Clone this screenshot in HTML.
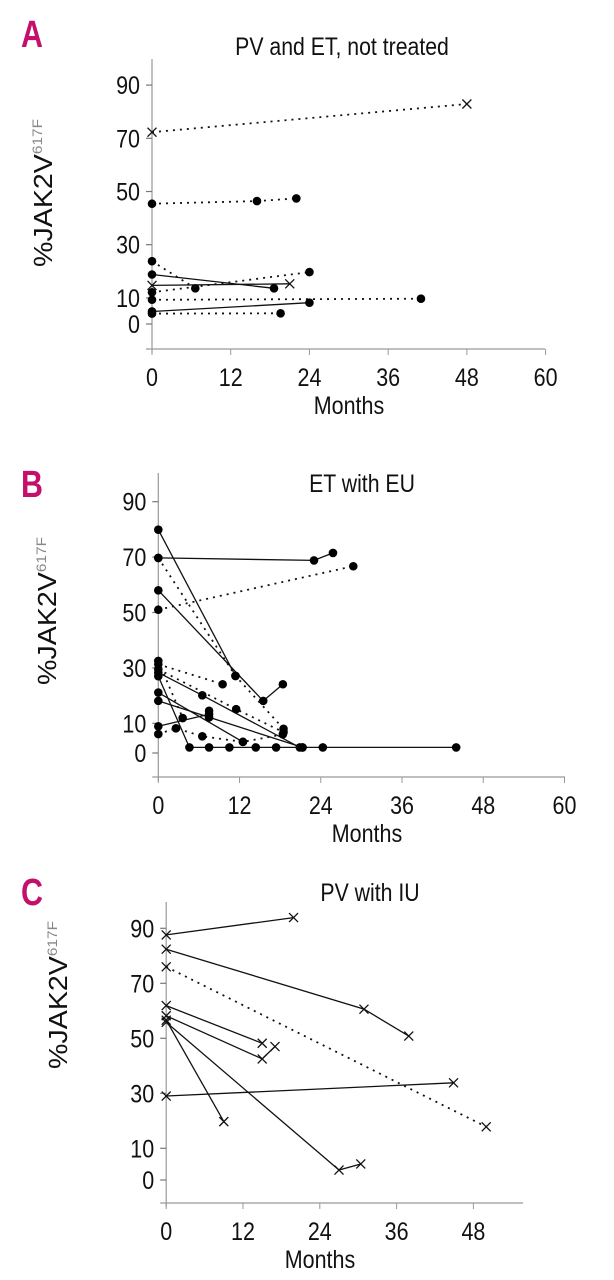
<!DOCTYPE html>
<html><head><meta charset="utf-8"><style>
html,body{margin:0;padding:0;background:#fff;}
svg{display:block;}
text{font-family:"Liberation Sans Narrow","Liberation Sans",sans-serif;}
</style></head><body>
<svg id="fig" width="614" height="1280" viewBox="0 0 614 1280" xmlns="http://www.w3.org/2000/svg"></svg>
<script>
// ---- Panel A data ----
const aTicksX = [0, 12, 24, 36, 48, 60];
const aTicksY = [90, 70, 50, 30, 10, 0];
const aMonths = [[0,48],[0,16,22],[0,6.6],[0,24],[0,18.6],[0,21],[0,41],[0,24],[0,19.6]];
const aValues = [[72.3,82.9],[45.4,46.4,47.4],[23.8,13.6],[12.1,19.7],[18.8,13.6],[14.7,15.3],[9.3,9.7],[4.9,8.2],[4.1,4.2]];
const aMarker = ['x','dot','dot','dot','dot','x','dot','dot','dot'];
const aDash = [true,true,true,true,false,false,true,false,true];
// ---- Panel B data ----
const bTicksX = [0, 12, 24, 36, 48, 60];
const bTicksY = [90, 70, 50, 30, 10, 0];
const bMonths = [[0,11.4],[0,15.5,18.4],[0,23,25.8],[0,11.4,18.5],[0,28.8],[0,9.5],[0,6.5,20.9],[0,11.5,18.5],[0,4.6,7.5,10.5,14.4,17.4,21.3,24.3,44],[0,12.5],[0,21.3],[0,7.5],[0,2.6,6.5,12.5,18.4],[0,3.6],[7.5,7.5]];
const bValues = [[79.9,27.1],[58,18.1,24.1],[69.7,68.8,71.5],[69.7,27.1,8.0],[51,66.7],[31.3,24.1],[28.3,20.1,1.3],[29.5,15.1,6.8],[27,1.3,1.3,1.3,1.3,1.3,1.3,1.3,1.3],[21.1,3.3],[18.1,1.3],[8.9,13.3],[6.1,8.2,5.3,3.3,6.0],[32.5,11.9],[14.5,12.1]];
const bMarker = ['dot','dot','dot','dot','dot','dot','dot','dot','dot','dot','dot','dot','dot','dot','dot'];
const bDash = [false,false,false,true,true,true,false,true,false,false,false,false,true,true,false];
// ---- Panel C data ----
const cTicksX = [0, 12, 24, 36, 48];
const cTicksY = [90, 70, 50, 30, 10, 0];
const cMonths = [[0,19.9],[0,30.9,37.9],[0,50],[0,15],[0,15,17],[0,9],[0,27,30.4],[0,44.9]];
const cValues = [[87.6,93.9],[82.4,60.6,50.8],[76.0,17.8],[61.9,48.2],[58.2,42.5,47.0],[56.6,19.7],[55.8,2.1,4.3],[29.0,33.8]];
const cMarker = ['x','x','x','x','x','x','x','x'];
const cDash = [false,false,true,false,false,false,false,false];

const NS = 'http://www.w3.org/2000/svg';
const svg = document.getElementById('fig');
function mk(tag, attrs, parent){
  const e = document.createElementNS(NS, tag);
  for (const k in attrs) e.setAttribute(k, attrs[k]);
  (parent||svg).appendChild(e);
  return e;
}
function txt(parent, x, y, size, sx, anchor, content, extra){
  const a = {x: 0, y: 0, 'font-size': size, 'text-anchor': anchor, fill: '#111', transform: 'translate(' + x + ',' + y + ') scale(' + sx + ',1)'};
  for (const k in (extra||{})) a[k] = extra[k];
  const t = mk('text', a, parent);
  t.textContent = content;
  return t;
}
function panel(p){
  const g = mk('g', {});
  
  
  const X = m => p.x0 + m * p.px;
  const Y = v => p.y0 - v * p.py;
  const L = txt(g, p.lx, p.ly, 38, 0.8, 'start', p.id, {'font-weight': 'bold', fill: '#c4106c'});
  
  
  const T = txt(g, p.tx, p.ty, 25, 0.85, 'middle', p.title);
  
  
  const ya = mk('line', {x1: p.x0, y1: p.top, x2: p.x0, y2: p.axY + 4, stroke: '#999', 'stroke-width': 1.2}, g);
  
  
  const xa = mk('line', {x1: p.x0 - 6, y1: p.axY, x2: p.xEnd, y2: p.axY, stroke: '#999', 'stroke-width': 1.2}, g);
  
  
  p.ticksX.forEach(t => {
    mk('line', {x1: X(t), y1: p.axY, x2: X(t), y2: p.axY + 6, stroke: '#999', 'stroke-width': 1}, g);
    const tl = txt(g, X(t), p.axY + 37, 25, 0.86, 'middle', String(t));
    
    
  });
  p.ticksY.forEach(t => {
    const yy = t === 0 ? p.zeroTick : Y(t);
    mk('line', {x1: p.x0 - 6, y1: yy, x2: p.x0, y2: yy, stroke: '#777', 'stroke-width': 1.2}, g);
    const tl = txt(g, p.x0 - 12, yy + 9, 25, 0.86, 'end', String(t));
    
    
  });
  const mx = txt(g, p.mx, p.axY + 65, 25, 0.86, 'middle', 'Months');
  
  
  const yt = mk('text', {x: 0, y: 0, 'font-size': 26, 'text-anchor': 'middle', fill: '#111', transform: 'translate(' + p.ylx + ',' + p.yly + ') rotate(-90) scale(1.1,1)'}, g);
  
  
  const t1 = mk('tspan', {}, yt); t1.textContent = '%JAK2V';
  const t2 = mk('tspan', {dy: -10, 'font-size': 14, fill: '#888'}, yt); t2.textContent = '617F';
  p.months.forEach((ms, i) => {
    const vs = p.values[i];
    const pts = ms.map((m, j) => X(m).toFixed(1) + ',' + Y(vs[j]).toFixed(1)).join(' ');
    const pl = mk('polyline', {points: pts, fill: 'none', stroke: '#111', 'stroke-width': p.dash[i] ? 1.8 : 1.3, 'stroke-dasharray': p.dash[i] ? '2 5' : 'none'}, g);
    
    
    ms.forEach((m, j) => {
      const cx = X(m), cy = Y(vs[j]);
      if (p.marker[i] === 'dot') {
        const c = mk('circle', {cx: cx, cy: cy, r: 4.3, fill: '#000'}, g);
        
        
      } else {
        const s = 4.5;
        const xp = mk('path', {d: 'M' + (cx - s) + ' ' + (cy - s) + 'L' + (cx + s) + ' ' + (cy + s) + 'M' + (cx - s) + ' ' + (cy + s) + 'L' + (cx + s) + ' ' + (cy - s), stroke: '#111', 'stroke-width': 1.3, fill: 'none'}, g);
        
        
      }
    });
  });
}
panel({id:'A', title:'PV and ET, not treated', lx:21, ly:47, tx:342, ty:55,
  x0:152, px:6.56, y0:324.5, py:2.66, zeroTick:324, top:59, axY:349, xEnd:545, mx:349, ylx:52, yly:193,
  ticksX:aTicksX, ticksY:aTicksY, months:aMonths, values:aValues, marker:aMarker, dash:aDash});
panel({id:'B', title:'ET with EU', lx:21, ly:497, tx:362, ty:492,
  x0:158.3, px:6.77, y0:751, py:2.77, zeroTick:753, top:473, axY:777, xEnd:565, mx:367, ylx:56, yly:611,
  ticksX:bTicksX, ticksY:bTicksY, months:bMonths, values:bValues, marker:bMarker, dash:bDash});
panel({id:'C', title:'PV with IU', lx:21, ly:905, tx:370, ty:901,
  x0:166.2, px:6.4, y0:1175.8, py:2.75, zeroTick:1180, top:902, axY:1203, xEnd:523, mx:320, ylx:67, yly:995,
  ticksX:cTicksX, ticksY:cTicksY, months:cMonths, values:cValues, marker:cMarker, dash:cDash});
</script>
</body></html>
